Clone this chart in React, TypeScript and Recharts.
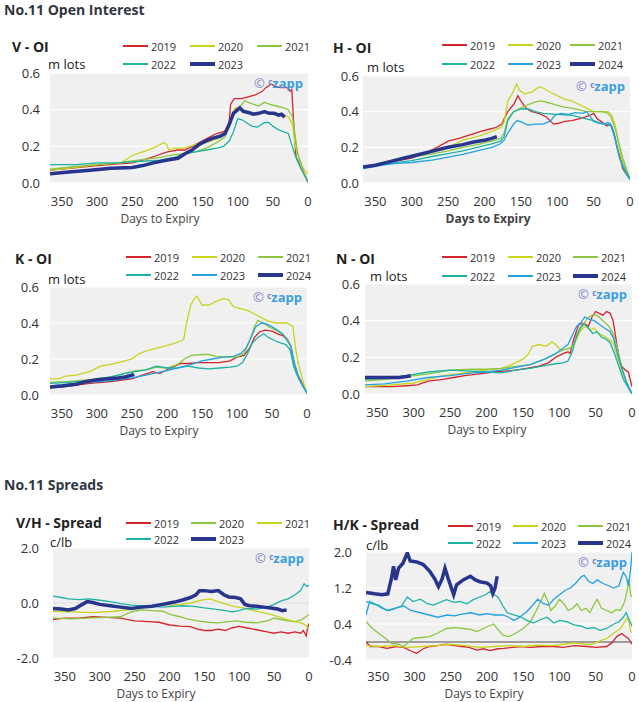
import { LineChart, Line, XAxis, YAxis, CartesianGrid, ReferenceLine } from "recharts";

type Pair = [number, number];

const DAY_TICKS = [350, 300, 250, 200, 150, 100, 50, 0];
const OI_TICKS = [0, 0.2, 0.4, 0.6];
const VH_TICKS = [-2, 0, 2];
const HK_TICKS = [-0.4, 0.4, 1.2, 2.0];

const RED = "#d3262c";
const YELLOW = "#c9d41c";
const GREEN = "#8cc63e";
const TEAL = "#1db3a4";
const BLUE = "#22a2e2";
const NAVY = "#27358c";

// V - OI (m lots), [days to expiry, value]
const V_2019: Pair[] = [[367,0.07],[340,0.08],[300,0.095],[270,0.105],[250,0.11],[230,0.13],[215,0.15],[200,0.17],[185,0.18],[175,0.18],[165,0.2],[150,0.23],[140,0.25],[130,0.27],[120,0.28],[113,0.3],[110,0.43],[105,0.46],[95,0.46],[85,0.47],[75,0.48],[65,0.5],[60,0.52],[52,0.54],[48,0.53],[40,0.52],[30,0.52],[25,0.5],[23,0.51],[20,0.3],[17,0.14],[14,0.12],[10,0.08],[5,0.05],[0,0.0]];
const V_2020: Pair[] = [[367,0.07],[330,0.085],[300,0.1],[265,0.11],[258,0.13],[250,0.15],[235,0.17],[220,0.19],[205,0.22],[201,0.21],[198,0.18],[190,0.19],[175,0.19],[160,0.21],[145,0.22],[130,0.24],[120,0.27],[113,0.3],[108,0.38],[103,0.41],[95,0.405],[85,0.39],[75,0.38],[65,0.385],[55,0.38],[45,0.38],[35,0.37],[28,0.36],[22,0.32],[18,0.2],[14,0.15],[10,0.1],[5,0.07],[0,0.05]];
const V_2021: Pair[] = [[367,0.075],[330,0.09],[300,0.1],[270,0.11],[250,0.12],[230,0.13],[210,0.14],[190,0.155],[175,0.16],[160,0.17],[145,0.19],[130,0.22],[118,0.25],[110,0.35],[105,0.39],[98,0.41],[90,0.45],[85,0.44],[78,0.43],[70,0.42],[62,0.44],[55,0.43],[45,0.42],[35,0.41],[28,0.4],[22,0.36],[18,0.25],[14,0.15],[10,0.11],[5,0.05],[0,0.0]];
const V_2022: Pair[] = [[367,0.1],[330,0.1],[300,0.11],[270,0.11],[250,0.115],[230,0.12],[210,0.125],[190,0.14],[175,0.16],[160,0.17],[145,0.18],[130,0.19],[120,0.2],[112,0.23],[106,0.28],[100,0.35],[94,0.345],[88,0.33],[80,0.31],[72,0.305],[62,0.33],[56,0.33],[50,0.31],[42,0.29],[35,0.28],[28,0.27],[24,0.22],[20,0.17],[15,0.12],[10,0.08],[5,0.04],[0,0.01]];
const V_2023: Pair[] = [[367,0.05],[340,0.06],[310,0.07],[280,0.08],[250,0.085],[235,0.095],[220,0.11],[200,0.125],[185,0.135],[175,0.16],[165,0.18],[155,0.21],[145,0.23],[135,0.245],[125,0.255],[118,0.27],[112,0.32],[106,0.38],[100,0.4],[97,0.41],[92,0.39],[85,0.385],[78,0.375],[70,0.38],[62,0.39],[55,0.38],[48,0.38],[42,0.37],[38,0.375],[33,0.36]];

// H - OI
const H_2019: Pair[] = [[367,0.085],[340,0.11],[320,0.125],[300,0.14],[280,0.17],[265,0.2],[250,0.235],[235,0.25],[220,0.27],[205,0.29],[195,0.3],[185,0.31],[176,0.33],[173,0.36],[168,0.4],[160,0.44],[154,0.49],[150,0.46],[143,0.42],[135,0.4],[125,0.39],[115,0.37],[105,0.33],[98,0.335],[90,0.345],[80,0.35],[70,0.36],[62,0.37],[55,0.38],[50,0.39],[45,0.36],[38,0.34],[32,0.32],[27,0.33],[22,0.28],[18,0.2],[14,0.15],[10,0.08],[5,0.05],[0,0.02]];
const H_2020: Pair[] = [[367,0.09],[330,0.12],[300,0.15],[270,0.18],[250,0.2],[230,0.24],[210,0.26],[190,0.29],[178,0.31],[173,0.34],[168,0.46],[162,0.5],[156,0.555],[152,0.52],[145,0.5],[135,0.51],[125,0.54],[118,0.53],[110,0.51],[100,0.49],[90,0.47],[80,0.46],[70,0.44],[60,0.42],[50,0.4],[40,0.4],[30,0.4],[25,0.38],[20,0.32],[15,0.2],[10,0.12],[5,0.07],[0,0.03]];
const H_2021: Pair[] = [[367,0.09],[330,0.12],[300,0.145],[270,0.165],[250,0.18],[230,0.2],[210,0.215],[190,0.235],[178,0.25],[173,0.28],[168,0.36],[160,0.4],[150,0.42],[140,0.44],[130,0.455],[122,0.46],[112,0.45],[100,0.435],[90,0.425],[80,0.42],[70,0.41],[60,0.4],[50,0.4],[40,0.4],[32,0.395],[26,0.37],[20,0.3],[15,0.22],[10,0.14],[5,0.08],[0,0.02]];
const H_2022: Pair[] = [[367,0.09],[330,0.11],[300,0.125],[270,0.15],[250,0.165],[230,0.18],[210,0.2],[190,0.22],[178,0.235],[173,0.26],[168,0.35],[160,0.4],[150,0.415],[140,0.415],[130,0.4],[120,0.39],[100,0.385],[80,0.38],[70,0.37],[60,0.36],[50,0.35],[40,0.335],[32,0.33],[26,0.32],[20,0.24],[15,0.15],[10,0.1],[5,0.06],[0,0.02]];
const H_2023: Pair[] = [[367,0.08],[340,0.1],[320,0.11],[300,0.115],[270,0.13],[250,0.145],[230,0.16],[210,0.18],[190,0.2],[178,0.22],[173,0.24],[168,0.28],[160,0.33],[155,0.35],[148,0.34],[140,0.325],[130,0.33],[120,0.33],[110,0.345],[103,0.38],[95,0.39],[85,0.385],[75,0.395],[65,0.39],[60,0.4],[55,0.375],[50,0.345],[42,0.335],[35,0.33],[30,0.34],[25,0.32],[20,0.25],[15,0.15],[10,0.09],[5,0.05],[0,0.02]];
const H_2024: Pair[] = [[367,0.09],[350,0.1],[330,0.12],[310,0.14],[290,0.16],[270,0.18],[250,0.2],[230,0.215],[215,0.23],[200,0.24],[190,0.25],[183,0.26]];

// K - OI
const K_2019: Pair[] = [[367,0.04],[340,0.05],[310,0.065],[280,0.075],[250,0.09],[235,0.11],[220,0.13],[210,0.12],[195,0.15],[180,0.175],[170,0.175],[155,0.18],[140,0.18],[125,0.18],[110,0.19],[100,0.21],[90,0.22],[82,0.26],[75,0.32],[68,0.35],[60,0.36],[50,0.355],[42,0.34],[35,0.33],[28,0.31],[23,0.27],[19,0.17],[15,0.12],[10,0.09],[5,0.05],[0,0.01]];
const K_2020: Pair[] = [[367,0.09],[355,0.09],[345,0.105],[330,0.11],[310,0.13],[295,0.16],[280,0.17],[260,0.19],[250,0.2],[240,0.23],[225,0.25],[210,0.265],[195,0.28],[180,0.3],[176,0.31],[172,0.4],[166,0.5],[160,0.54],[157,0.55],[150,0.5],[140,0.5],[130,0.52],[120,0.535],[112,0.53],[105,0.49],[95,0.48],[85,0.47],[75,0.45],[65,0.43],[55,0.41],[45,0.4],[35,0.4],[28,0.4],[20,0.38],[16,0.25],[12,0.17],[6,0.08],[0,0.01]];
const K_2021: Pair[] = [[367,0.07],[340,0.075],[310,0.085],[280,0.1],[260,0.12],[245,0.135],[230,0.14],[215,0.155],[200,0.15],[185,0.17],[175,0.2],[165,0.22],[150,0.225],[140,0.225],[130,0.215],[115,0.21],[100,0.21],[90,0.23],[82,0.3],[75,0.38],[70,0.415],[62,0.4],[55,0.38],[45,0.36],[35,0.34],[28,0.31],[23,0.27],[18,0.17],[12,0.1],[6,0.05],[0,0.01]];
const K_2022: Pair[] = [[367,0.065],[340,0.07],[310,0.08],[280,0.1],[260,0.12],[245,0.13],[230,0.14],[215,0.16],[200,0.15],[185,0.15],[170,0.16],[155,0.15],[140,0.145],[125,0.15],[110,0.155],[100,0.16],[92,0.18],[85,0.23],[78,0.29],[70,0.32],[62,0.34],[55,0.32],[45,0.3],[38,0.29],[30,0.28],[24,0.25],[19,0.16],[12,0.09],[6,0.05],[0,0.01]];
const K_2023: Pair[] = [[367,0.05],[340,0.06],[310,0.07],[280,0.08],[250,0.095],[225,0.115],[200,0.135],[180,0.155],[165,0.17],[150,0.19],[135,0.2],[120,0.21],[105,0.215],[95,0.23],[87,0.26],[80,0.32],[73,0.38],[65,0.4],[58,0.395],[50,0.38],[42,0.36],[35,0.34],[28,0.3],[23,0.27],[18,0.18],[12,0.1],[6,0.05],[0,0.01]];
const K_2024: Pair[] = [[367,0.045],[350,0.05],[330,0.06],[315,0.075],[300,0.085],[285,0.09],[270,0.095],[260,0.1],[250,0.11],[247,0.115]];

// N - OI
const N_2019: Pair[] = [[367,0.04],[330,0.04],[310,0.045],[295,0.05],[280,0.07],[260,0.08],[245,0.09],[230,0.1],[210,0.11],[190,0.12],[175,0.125],[160,0.13],[145,0.14],[130,0.15],[115,0.17],[105,0.2],[95,0.22],[88,0.23],[85,0.22],[80,0.3],[73,0.38],[66,0.385],[60,0.37],[55,0.42],[50,0.45],[45,0.44],[40,0.43],[35,0.45],[30,0.44],[26,0.4],[22,0.3],[18,0.2],[14,0.15],[9,0.13],[5,0.12],[0,0.04]];
const N_2020: Pair[] = [[367,0.04],[330,0.05],[300,0.06],[280,0.08],[260,0.1],[240,0.11],[220,0.12],[200,0.13],[180,0.14],[165,0.16],[150,0.19],[142,0.22],[137,0.26],[128,0.27],[118,0.26],[110,0.285],[105,0.27],[98,0.24],[90,0.245],[82,0.26],[76,0.3],[70,0.35],[64,0.37],[58,0.35],[52,0.36],[46,0.33],[40,0.32],[32,0.3],[26,0.28],[20,0.2],[14,0.12],[8,0.06],[0,0.0]];
const N_2021: Pair[] = [[367,0.07],[340,0.08],[310,0.095],[280,0.11],[250,0.13],[220,0.135],[200,0.135],[180,0.14],[160,0.15],[140,0.16],[120,0.19],[105,0.22],[95,0.24],[85,0.25],[80,0.27],[75,0.32],[70,0.36],[62,0.41],[55,0.43],[48,0.43],[40,0.4],[32,0.37],[26,0.33],[20,0.25],[14,0.14],[8,0.07],[0,0.0]];
const N_2022: Pair[] = [[367,0.08],[340,0.085],[310,0.1],[280,0.12],[250,0.13],[220,0.125],[200,0.12],[180,0.115],[160,0.13],[140,0.14],[120,0.155],[105,0.165],[95,0.17],[88,0.18],[82,0.23],[76,0.32],[70,0.37],[65,0.38],[60,0.36],[54,0.33],[48,0.34],[42,0.31],[36,0.3],[30,0.28],[24,0.22],[18,0.15],[12,0.08],[6,0.04],[0,0.0]];
const N_2023: Pair[] = [[367,0.05],[340,0.055],[310,0.07],[280,0.09],[250,0.1],[220,0.115],[200,0.12],[180,0.13],[160,0.145],[140,0.16],[120,0.19],[105,0.22],[95,0.25],[88,0.27],[82,0.32],[76,0.37],[70,0.39],[65,0.42],[60,0.41],[52,0.4],[45,0.38],[38,0.36],[30,0.34],[25,0.3],[20,0.22],[14,0.14],[8,0.07],[0,0.0]];
const N_2024: Pair[] = [[367,0.09],[340,0.09],[320,0.09],[310,0.095],[304,0.1]];

// V/H spread (c/lb)
const VH_2019: Pair[] = [[367,-0.6],[350,-0.55],[330,-0.55],[310,-0.5],[290,-0.52],[270,-0.55],[250,-0.65],[230,-0.68],[215,-0.7],[200,-0.8],[185,-0.84],[170,-0.86],[160,-0.95],[150,-1.0],[140,-1.0],[130,-0.95],[120,-1.0],[110,-0.9],[100,-0.85],[90,-0.9],[80,-0.95],[70,-1.0],[60,-1.05],[50,-1.1],[40,-1.05],[30,-1.1],[20,-1.05],[12,-1.1],[8,-1.0],[4,-1.2],[2,-0.9],[0,-0.75]];
const VH_2020: Pair[] = [[367,-0.55],[340,-0.58],[320,-0.55],[290,-0.52],[270,-0.5],[260,-0.38],[250,-0.3],[240,-0.25],[225,-0.28],[210,-0.3],[198,-0.42],[185,-0.5],[175,-0.58],[160,-0.65],[145,-0.7],[130,-0.72],[115,-0.68],[105,-0.65],[90,-0.7],[75,-0.72],[60,-0.65],[50,-0.55],[40,-0.6],[30,-0.65],[20,-0.68],[10,-0.6],[0,-0.42]];
const VH_2021: Pair[] = [[367,-0.3],[340,-0.32],[310,-0.35],[280,-0.3],[260,-0.25],[240,-0.18],[225,-0.1],[215,-0.05],[200,-0.08],[185,-0.05],[170,0.0],[155,0.1],[142,0.15],[130,0.05],[118,-0.05],[108,-0.12],[95,-0.18],[80,-0.28],[65,-0.35],[50,-0.45],[38,-0.55],[25,-0.65],[12,-0.72],[5,-0.8],[0,-0.95]];
const VH_2022: Pair[] = [[367,0.25],[355,0.2],[345,0.15],[330,0.12],[315,0.15],[300,0.1],[285,0.05],[270,-0.02],[255,-0.08],[240,-0.1],[225,-0.12],[210,-0.15],[195,-0.12],[180,-0.1],[165,-0.12],[150,-0.18],[135,-0.22],[120,-0.28],[110,-0.32],[100,-0.28],[90,-0.2],[75,-0.22],[60,-0.15],[50,-0.05],[40,0.08],[30,0.15],[20,0.3],[12,0.45],[7,0.7],[3,0.6],[0,0.65]];
const VH_2023: Pair[] = [[367,-0.2],[355,-0.22],[345,-0.25],[335,-0.2],[325,-0.05],[318,0.05],[310,0.02],[300,-0.05],[285,-0.1],[270,-0.15],[255,-0.2],[240,-0.15],[225,-0.12],[210,-0.05],[200,0.0],[190,0.05],[180,0.12],[170,0.2],[162,0.3],[157,0.45],[150,0.45],[140,0.42],[130,0.45],[122,0.3],[115,0.22],[105,0.2],[98,0.15],[92,-0.05],[85,-0.1],[75,-0.12],[65,-0.15],[55,-0.18],[45,-0.22],[38,-0.28],[32,-0.25]];

// H/K spread (c/lb)
const HK_2019: Pair[] = [[367,0.0],[361,-0.1],[350,-0.1],[338,-0.14],[325,-0.1],[315,-0.12],[305,-0.2],[297,-0.25],[288,-0.15],[279,-0.1],[268,-0.08],[256,-0.05],[245,-0.08],[235,-0.1],[225,-0.12],[214,-0.18],[205,-0.15],[196,-0.19],[185,-0.15],[177,-0.14],[165,-0.12],[154,-0.1],[140,-0.12],[125,-0.1],[108,-0.1],[95,-0.12],[80,-0.08],[62,-0.1],[50,-0.12],[35,-0.1],[28,-0.02],[21,0.12],[14,0.19],[9,0.12],[5,0.08],[2,0.0],[0,-0.05]];
const HK_2020: Pair[] = [[367,-0.08],[350,-0.1],[330,-0.08],[310,-0.12],[290,-0.1],[270,-0.08],[250,-0.05],[230,-0.08],[210,-0.12],[190,-0.1],[170,-0.08],[150,-0.1],[130,-0.07],[110,-0.08],[95,-0.05],[80,-0.02],[65,-0.05],[55,-0.05],[45,0.02],[35,0.08],[25,0.2],[16,0.3],[10,0.45],[7,0.53],[4,0.45],[2,0.25],[0,0.2]];
const HK_2021: Pair[] = [[367,0.45],[358,0.3],[350,0.2],[340,0.08],[332,-0.03],[322,-0.05],[315,-0.1],[308,0.0],[302,0.08],[290,0.1],[279,0.12],[268,0.2],[256,0.3],[245,0.32],[233,0.3],[222,0.28],[214,0.23],[205,0.3],[198,0.35],[191,0.4],[185,0.28],[178,0.15],[170,0.12],[160,0.2],[150,0.3],[140,0.45],[132,0.7],[126,0.9],[121,1.08],[116,0.9],[112,0.7],[106,0.8],[100,0.95],[94,0.85],[88,0.7],[82,0.75],[76,0.85],[70,0.7],[64,0.75],[58,0.65],[52,0.85],[48,0.95],[42,0.75],[35,0.7],[28,0.65],[22,0.72],[16,0.7],[10,0.9],[6,1.2],[4,1.4],[2,1.05],[0,1.0]];
const HK_2022: Pair[] = [[367,0.9],[358,0.85],[350,0.82],[338,0.7],[328,0.75],[318,0.8],[310,1.0],[302,0.9],[292,0.95],[282,0.85],[274,0.82],[265,0.88],[256,0.94],[246,0.88],[237,0.9],[228,0.85],[219,0.94],[210,1.0],[202,1.05],[196,1.12],[190,1.05],[185,1.0],[178,0.8],[172,0.65],[163,0.6],[154,0.56],[145,0.48],[136,0.42],[126,0.5],[117,0.55],[108,0.42],[100,0.48],[90,0.45],[80,0.38],[70,0.35],[62,0.3],[52,0.32],[44,0.26],[35,0.3],[25,0.4],[18,0.45],[12,0.55],[8,0.65],[4,0.5],[0,0.35]];
const HK_2023: Pair[] = [[367,0.6],[362,0.9],[355,0.85],[345,0.75],[335,0.7],[325,0.75],[315,0.8],[305,0.7],[292,0.65],[280,0.6],[268,0.55],[255,0.6],[245,0.58],[235,0.62],[222,0.65],[210,0.6],[200,0.63],[190,0.6],[178,0.6],[170,0.55],[163,0.48],[155,0.55],[145,0.68],[138,0.8],[130,0.95],[122,0.85],[115,0.82],[108,0.95],[100,1.05],[92,1.15],[85,1.2],[78,1.3],[70,1.45],[66,1.48],[60,1.35],[54,1.3],[48,1.38],[40,1.3],[32,1.25],[25,1.2],[18,1.25],[12,1.55],[8,1.45],[5,1.25],[2,1.6],[0,2.0]];
const HK_2024: Pair[] = [[367,1.1],[355,1.07],[345,1.05],[337,1.07],[332,1.4],[329,1.68],[326,1.38],[322,1.64],[316,1.75],[310,1.98],[306,1.8],[297,1.78],[288,1.72],[279,1.57],[272,1.4],[267,1.23],[262,1.4],[258,1.64],[253,1.38],[246,1.05],[242,1.27],[233,1.38],[223,1.46],[216,1.38],[210,1.34],[200,1.31],[195,1.25],[192,1.08],[189,1.2],[186,1.46]];

const toPts = (a: Pair[]) => a.map(([d, v]) => ({ d, v }));

type Series = { name: string; color: string; data: Pair[]; thick?: boolean };
type PanelDef = {
  title: string;
  unit: string;
  plot: { x: number; y: number; w: number; h: number };
  domain: [number, number];
  ticks: number[];
  yGap: number;
  xGap: number;
  titleAt: [number, number];
  unitAt: [number, number];
  xLabelAt: [number, number];
  xLabelBold?: boolean;
  legendCols: number[];
  legendRows: number[];
  zero?: string;
  series: Series[];
};

const panels: PanelDef[] = [
  {
    title: "V - OI", unit: "m lots", plot: { x: 50, y: 73, w: 258, h: 110 }, domain: [0, 0.6], ticks: OI_TICKS,
    yGap: 10, xGap: 14, titleAt: [12, 47], unitAt: [48, 64], xLabelAt: [160, 219],
    legendCols: [123, 190, 257], legendRows: [46, 64],
    series: [
      { name: "2019", color: RED, data: V_2019 },
      { name: "2020", color: YELLOW, data: V_2020 },
      { name: "2021", color: GREEN, data: V_2021 },
      { name: "2022", color: TEAL, data: V_2022 },
      { name: "2023", color: NAVY, data: V_2023, thick: true },
    ],
  },
  {
    title: "H - OI", unit: "m lots", plot: { x: 363, y: 76, w: 267, h: 107 }, domain: [0, 0.6], ticks: OI_TICKS,
    yGap: 4, xGap: 14, titleAt: [333, 48], unitAt: [367, 67], xLabelAt: [488, 219], xLabelBold: true,
    legendCols: [442, 508, 570], legendRows: [45, 64],
    series: [
      { name: "2019", color: RED, data: H_2019 },
      { name: "2020", color: YELLOW, data: H_2020 },
      { name: "2021", color: GREEN, data: H_2021 },
      { name: "2022", color: TEAL, data: H_2022 },
      { name: "2023", color: BLUE, data: H_2023 },
      { name: "2024", color: NAVY, data: H_2024, thick: true },
    ],
  },
  {
    title: "K - OI", unit: "m lots", plot: { x: 50, y: 287, w: 257, h: 108 }, domain: [0, 0.6], ticks: OI_TICKS,
    yGap: 11, xGap: 14, titleAt: [15, 259], unitAt: [48, 279], xLabelAt: [159, 431],
    legendCols: [126, 192, 258], legendRows: [257, 275],
    series: [
      { name: "2019", color: RED, data: K_2019 },
      { name: "2020", color: YELLOW, data: K_2020 },
      { name: "2021", color: GREEN, data: K_2021 },
      { name: "2022", color: TEAL, data: K_2022 },
      { name: "2023", color: BLUE, data: K_2023 },
      { name: "2024", color: NAVY, data: K_2024, thick: true },
    ],
  },
  {
    title: "N - OI", unit: "m lots", plot: { x: 365, y: 284, w: 267, h: 110 }, domain: [0, 0.6], ticks: OI_TICKS,
    yGap: 5, xGap: 14, titleAt: [336, 259], unitAt: [370, 276], xLabelAt: [487, 430],
    legendCols: [442, 508, 573], legendRows: [257, 276],
    series: [
      { name: "2019", color: RED, data: N_2019 },
      { name: "2020", color: YELLOW, data: N_2020 },
      { name: "2021", color: GREEN, data: N_2021 },
      { name: "2022", color: TEAL, data: N_2022 },
      { name: "2023", color: BLUE, data: N_2023 },
      { name: "2024", color: NAVY, data: N_2024, thick: true },
    ],
  },
  {
    title: "V/H - Spread", unit: "c/lb", plot: { x: 53, y: 548, w: 256, h: 110 }, domain: [-2, 2], ticks: VH_TICKS,
    yGap: 14, xGap: 14, titleAt: [16, 523], unitAt: [50, 542], xLabelAt: [156, 694], zero: "#d6d6d6",
    legendCols: [126, 191, 257], legendRows: [523, 539],
    series: [
      { name: "2019", color: RED, data: VH_2019 },
      { name: "2020", color: GREEN, data: VH_2020 },
      { name: "2021", color: YELLOW, data: VH_2021 },
      { name: "2022", color: TEAL, data: VH_2022 },
      { name: "2023", color: NAVY, data: VH_2023, thick: true },
    ],
  },
  {
    title: "H/K - Spread", unit: "c/lb", plot: { x: 366, y: 552, w: 266, h: 108 }, domain: [-0.4, 2], ticks: HK_TICKS,
    yGap: 14, xGap: 12, titleAt: [333, 525], unitAt: [366, 545], xLabelAt: [484, 694], zero: "#4a4a4a",
    legendCols: [448, 513, 578], legendRows: [526, 543],
    series: [
      { name: "2019", color: RED, data: HK_2019 },
      { name: "2020", color: YELLOW, data: HK_2020 },
      { name: "2021", color: GREEN, data: HK_2021 },
      { name: "2022", color: TEAL, data: HK_2022 },
      { name: "2023", color: BLUE, data: HK_2023 },
      { name: "2024", color: NAVY, data: HK_2024, thick: true },
    ],
  },
];

const TEXT = "#333";

function Label({ x, y, children, style }: { x: number; y: number; children: any; style?: any }) {
  return (
    <div style={{ position: "absolute", left: x, top: y - 8, height: 16, lineHeight: "16px", whiteSpace: "nowrap", ...style }}>
      {children}
    </div>
  );
}

function Panel({ p }: { p: PanelDef }) {
  const { x, y, w, h } = p.plot;
  return (
    <>
      <div style={{ position: "absolute", left: x - 50, top: y - 10 }}>
        <LineChart width={w + 60} height={h + 40} margin={{ top: 10, right: 10, bottom: 0, left: 0 }}>
          <CartesianGrid vertical={false} stroke="#ffffff" strokeWidth={1.2} fill="#f0f0f0" />
          <XAxis
            type="number"
            dataKey="d"
            domain={[0, 367]}
            reversed
            ticks={DAY_TICKS}
            interval={0}
            allowDataOverflow
            axisLine={false}
            tickLine={false}
            tickSize={0}
            tickMargin={p.xGap}
            height={30}
            tick={{ fill: TEXT, fontSize: 13 }}
          />
          <YAxis
            type="number"
            domain={p.domain}
            ticks={p.ticks}
            interval={0}
            allowDataOverflow
            axisLine={false}
            tickLine={false}
            tickSize={0}
            tickMargin={p.yGap}
            width={50}
            tickFormatter={(v: number) => v.toFixed(1)}
            tick={{ fill: TEXT, fontSize: 13 }}
          />
          {p.zero && <ReferenceLine y={0} stroke={p.zero} strokeWidth={1.2} />}
          {p.series.map((s) => (
            <Line
              key={s.name}
              data={toPts(s.data)}
              dataKey="v"
              type="linear"
              stroke={s.color}
              strokeWidth={s.thick ? 3.5 : 1.3}
              dot={false}
              activeDot={false}
              isAnimationActive={false}
            />
          ))}
        </LineChart>
      </div>
      <Label x={p.titleAt[0]} y={p.titleAt[1]} style={{ fontSize: 14, fontWeight: 700, color: "#222" }}>{p.title}</Label>
      <Label x={p.unitAt[0]} y={p.unitAt[1]} style={{ fontSize: 13, color: "#222" }}>{p.unit}</Label>
      <div
        style={{
          position: "absolute", left: p.xLabelAt[0] - 80, width: 160, top: p.xLabelAt[1] - 7, height: 14,
          lineHeight: "14px", textAlign: "center", fontSize: 12, color: "#444", fontWeight: p.xLabelBold ? 700 : 400,
        }}
      >
        Days to Expiry
      </div>
      <div
        style={{
          position: "absolute", left: x + w - 80, width: 75, top: y + 1, height: 16, lineHeight: "16px",
          textAlign: "right", fontSize: 13, fontWeight: 700, whiteSpace: "nowrap",
        }}
      >
        <span style={{ color: "#7b80c4", fontWeight: 400 }}>©</span>{" "}
        <span style={{ color: "#7b80c4", fontSize: 8, verticalAlign: "3px" }}>c</span>
        <span style={{ color: "#3a9fe0" }}>zapp</span>
      </div>
      {p.series.map((s, i) => (
        <div
          key={s.name}
          style={{
            position: "absolute", left: p.legendCols[i % 3], top: p.legendRows[Math.floor(i / 3)] - 7,
            height: 14, display: "flex", alignItems: "center", fontSize: 11, color: TEXT, whiteSpace: "nowrap",
          }}
        >
          <span style={{ display: "inline-block", width: 25, height: s.thick ? 4 : 1.5, background: s.color, marginRight: 3 }} />
          {s.name}
        </div>
      ))}
    </>
  );
}

export default function App() {
  return (
    <div style={{ position: "absolute", left: 0, top: 0, width: 639, height: 702, background: "#fff", fontFamily: "'Open Sans', sans-serif" }}>
      <Label x={4} y={10} style={{ fontSize: 14, fontWeight: 700, color: "#2f3642" }}>No.11 Open Interest</Label>
      <Label x={4} y={485} style={{ fontSize: 14, fontWeight: 700, color: "#2f3642" }}>No.11 Spreads</Label>
      {panels.map((p) => (
        <Panel key={p.title} p={p} />
      ))}
    </div>
  );
}
